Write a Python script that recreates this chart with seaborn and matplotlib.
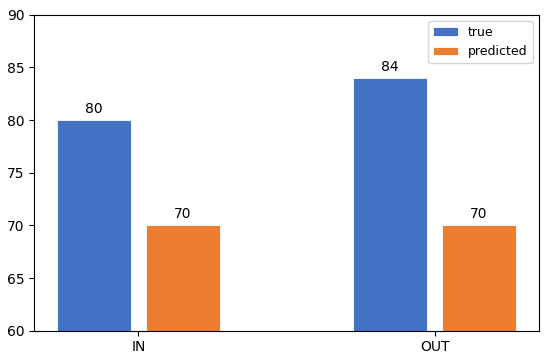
import numpy as np
import pandas as pd
import seaborn as sns
from matplotlib import pyplot as plt

# values
groups = ["IN", "OUT"]
series = ["true", "predicted"]
true_vals = [80, 84]
pred_vals = [70, 70]
colors = ["#4472C4", "#ED7D31"]

df = pd.DataFrame({
    "group": groups * 2,
    "kind": [series[0]] * len(groups) + [series[1]] * len(groups),
    "value": true_vals + pred_vals,
})

fig = plt.figure(figsize=(5.5, 3.61), dpi=100)
ax = fig.add_axes([0.0618, 0.084, 0.9182, 0.875])

sns.barplot(data=df, x="group", y="value", hue="kind", order=groups, hue_order=series,
            palette=colors, saturation=1, width=0.6, gap=1 / 6,
            edgecolor="white", linewidth=0.6, ax=ax)

for cont in ax.containers:
    ax.bar_label(cont, padding=3, fontsize=10)

# matplotlib-like 5% margins around the bars
ax.set_xlim(-0.3525, 1.3525)
ax.set_ylim(60, 90)
ax.set_xlabel("")
ax.set_ylabel("")
ax.tick_params(labelsize=10)
ax.legend(title=None, loc="upper right", fontsize=9)

plt.savefig("out.png", dpi=100)
